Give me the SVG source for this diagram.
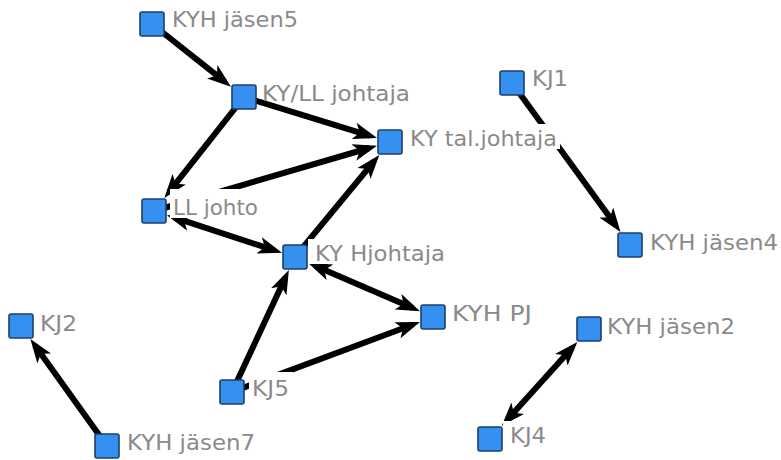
<svg xmlns="http://www.w3.org/2000/svg" width="781" height="460" viewBox="0 0 781 460">
  <style>
    .edge { stroke: #000; stroke-width: 6; fill: none; marker-end: url(#arrow); }
    .both { marker-start: url(#arrow); }
    .node rect.box { fill: #3590f0; stroke: #1d3f6e; stroke-width: 1.6; }
    .node rect.bg { fill: #fff; }
    .node text { font-family: "DejaVu Sans", "Liberation Sans", sans-serif; font-size: 21px; fill: #8a8a8a; }
  </style>
  <defs>
    <marker id="arrow" markerUnits="userSpaceOnUse" markerWidth="25" markerHeight="18" viewBox="0 0 25 18" refX="16" refY="9" orient="auto-start-reverse">
      <path d="M0,0.5 L24,9 L0,17.5 L6,9 Z" fill="#000"/>
    </marker>
  </defs>
  <rect width="781" height="460" fill="#fff"/>

  <!-- connectors -->
  <g id="edges">
    <line class="edge" x1="152" y1="24" x2="224.7" y2="81.7"/>
    <line class="edge" x1="244" y1="97" x2="369.4" y2="135.6"/>
    <line class="edge" x1="244" y1="97" x2="169.3" y2="191.7"/>
    <line class="edge" x1="154" y1="211" x2="369.3" y2="148.0"/>
    <line class="edge both" x1="174.6" y1="217.7" x2="274.4" y2="250.3"/>
    <line class="edge" x1="295" y1="257" x2="374.2" y2="161.2"/>
    <line class="edge both" x1="315.3" y1="265.9" x2="412.7" y2="308.1"/>
    <line class="edge" x1="232" y1="392" x2="285.5" y2="277.3"/>
    <line class="edge" x1="232" y1="392" x2="412.5" y2="324.7"/>
    <line class="edge" x1="512" y1="83" x2="615.8" y2="225.5"/>
    <line class="edge" x1="107" y1="446" x2="35" y2="345.5"/>
    <line class="edge both" x1="572" y1="347.9" x2="507" y2="420.1"/>
  </g>

  <!-- nodes: square marker plus label on a white plate -->
  <g id="kyh-jasen5" class="node">
    <rect class="bg" x="165" y="5" width="136" height="25"/>
    <rect class="box" x="140" y="12" width="24" height="24" rx="2"/>
    <text x="172" y="27" textLength="126" lengthAdjust="spacingAndGlyphs">KYH jäsen5</text>
  </g>
  <g id="ky-ll-johtaja" class="node">
    <rect class="bg" x="259" y="79" width="154" height="20"/>
    <rect class="box" x="232" y="85" width="24" height="24" rx="2"/>
    <text x="262" y="101" textLength="148" lengthAdjust="spacingAndGlyphs">KY/LL johtaja</text>
  </g>
  <g id="ky-tal-johtaja" class="node">
    <rect class="bg" x="403" y="124" width="157" height="25"/>
    <rect class="box" x="378" y="130" width="24" height="24" rx="2"/>
    <text x="410" y="146" textLength="147" lengthAdjust="spacingAndGlyphs">KY tal.johtaja</text>
  </g>
  <g id="kj1" class="node">
    <rect class="bg" x="525" y="64" width="46" height="25"/>
    <rect class="box" x="500" y="71" width="24" height="24" rx="2"/>
    <text x="532" y="86" textLength="36" lengthAdjust="spacingAndGlyphs">KJ1</text>
  </g>
  <g id="ll-johto" class="node">
    <rect class="bg" x="170" y="189" width="91" height="29"/>
    <rect class="box" x="142" y="199" width="24" height="24" rx="2"/>
    <text x="173" y="215" textLength="85" lengthAdjust="spacingAndGlyphs">LL johto</text>
  </g>
  <g id="ky-hjohtaja" class="node">
    <rect class="bg" x="308" y="239" width="140" height="25"/>
    <rect class="box" x="283" y="245" width="24" height="24" rx="2"/>
    <text x="315" y="261" textLength="130" lengthAdjust="spacingAndGlyphs">KY Hjohtaja</text>
  </g>
  <g id="kyh-jasen4" class="node">
    <rect class="bg" x="643" y="228" width="138" height="25"/>
    <rect class="box" x="618" y="233" width="24" height="24" rx="2"/>
    <text x="650" y="250" textLength="128" lengthAdjust="spacingAndGlyphs">KYH jäsen4</text>
  </g>
  <g id="kj2" class="node">
    <rect class="bg" x="34" y="309" width="46" height="25"/>
    <rect class="box" x="9" y="314" width="24" height="24" rx="2"/>
    <text x="40" y="331" textLength="37" lengthAdjust="spacingAndGlyphs">KJ2</text>
  </g>
  <g id="kyh-pj" class="node">
    <rect class="bg" x="446" y="299" width="89" height="25"/>
    <rect class="box" x="421" y="305" width="24" height="24" rx="2"/>
    <text x="452" y="321" textLength="80" lengthAdjust="spacingAndGlyphs">KYH PJ</text>
  </g>
  <g id="kyh-jasen2" class="node">
    <rect class="bg" x="602" y="312" width="136" height="25"/>
    <rect class="box" x="577" y="317" width="24" height="24" rx="2"/>
    <text x="607" y="334" textLength="128" lengthAdjust="spacingAndGlyphs">KYH jäsen2</text>
  </g>
  <g id="kj5" class="node">
    <rect class="bg" x="249" y="372" width="44" height="27"/>
    <rect class="box" x="220" y="380" width="24" height="24" rx="2"/>
    <text x="252" y="396" textLength="37" lengthAdjust="spacingAndGlyphs">KJ5</text>
  </g>
  <g id="kyh-jasen7" class="node">
    <rect class="bg" x="120" y="428" width="138" height="25"/>
    <rect class="box" x="95" y="434" width="24" height="24" rx="2"/>
    <text x="127" y="450" textLength="128" lengthAdjust="spacingAndGlyphs">KYH jäsen7</text>
  </g>
  <g id="kj4" class="node">
    <rect class="bg" x="503" y="421" width="46" height="25"/>
    <rect class="box" x="478" y="427" width="24" height="24" rx="2"/>
    <text x="510" y="443" textLength="36" lengthAdjust="spacingAndGlyphs">KJ4</text>
  </g>
</svg>
